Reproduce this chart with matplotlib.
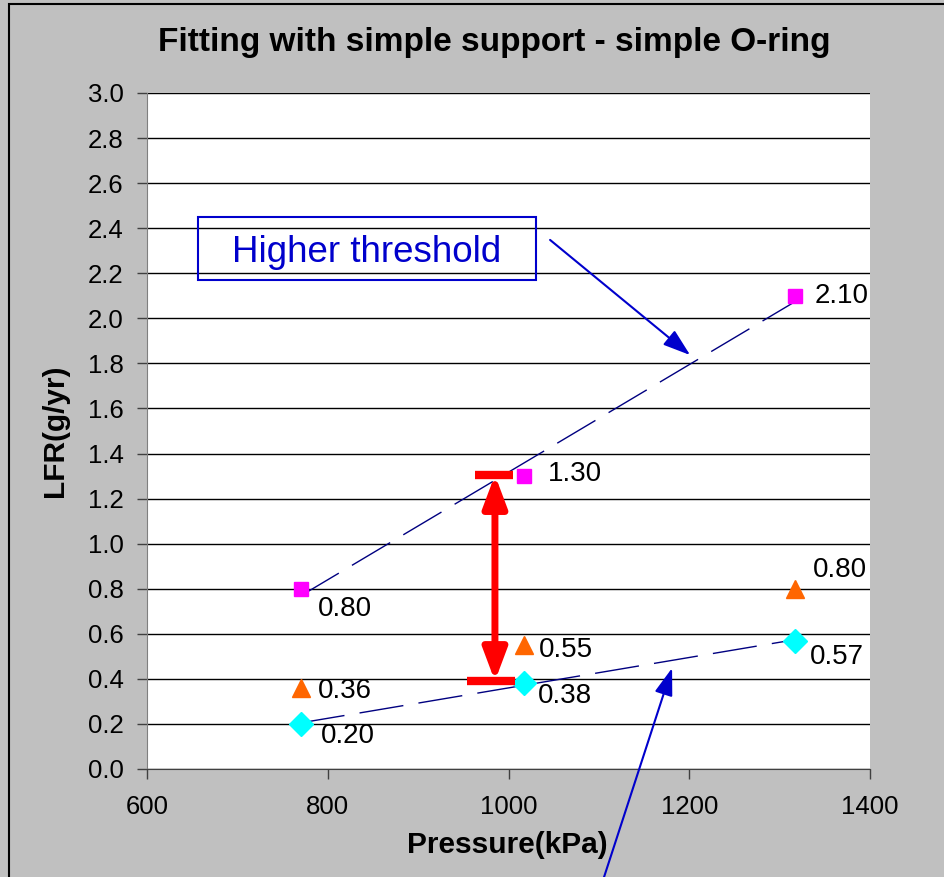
import numpy as np
import matplotlib.pyplot as plt
from matplotlib.patches import Rectangle

plt.rcParams['font.family'] = ['Liberation Sans', 'DejaVu Sans']

# data
pressure = [770, 1017, 1317]
lfr_high = [0.80, 1.30, 2.10]   # pink squares
lfr_mid = [0.36, 0.55, 0.80]    # orange triangles
lfr_low = [0.20, 0.38, 0.57]    # cyan diamonds

high_labels = ['0.80', '1.30', '2.10']
mid_labels = ['0.36', '0.55', '0.80']
low_labels = ['0.20', '0.38', '0.57']

yticks = np.arange(0, 3.01, 0.2)
xticks = [600, 800, 1000, 1200, 1400]

fig = plt.figure(figsize=(9.44, 8.77), dpi=100)
fig.patch.set_facecolor('#C0C0C0')
ax = fig.add_axes([147/944, 1 - 769/877, 723/944, 676/877])
ax.set_facecolor('white')

# outer frame (cut off on right and bottom)
fig.patches.append(Rectangle((9/944, -0.1), 1.2, 1 - 4/877 + 0.1, transform=fig.transFigure,
                             fill=False, edgecolor='black', lw=1.5, zorder=0))

ax.set_xlim(600, 1400)
ax.set_ylim(0, 3.0)
ax.set_yticks(yticks)
ax.set_yticklabels([f'{v:.1f}' for v in yticks])
ax.set_xticks(xticks)
ax.yaxis.grid(True, color='black', lw=1)
ax.set_axisbelow(True)
for s in ['top', 'right']:
    ax.spines[s].set_visible(False)
ax.spines['left'].set_color('#808080')
ax.spines['bottom'].set_color('#404040')
ax.tick_params(axis='y', direction='out', length=7, width=1, pad=10, labelsize=18.5, colors='#404040', labelcolor='black')
ax.tick_params(axis='x', direction='out', length=7, width=1, pad=12, labelsize=18.5, colors='#404040', labelcolor='black')

# trend lines
for ys in [lfr_high, lfr_low]:
    k, b = np.polyfit(pressure, ys, 1)
    xs = np.array([pressure[0], pressure[-1]])
    ax.plot(xs, k * xs + b, color='#000080', lw=1, linestyle=(0, (32, 11)), zorder=3)

ax.plot(pressure, lfr_high, 's', color='#FF00FF', ms=10.5, zorder=4)
ax.plot(pressure, lfr_mid, '^', color='#FF6600', ms=13.5, zorder=4)
ax.plot(pressure, lfr_low, 'D', color='#00FFFF', ms=12, zorder=4)

# data labels
high_off = [(17, -20), (24, 2), (20, 0)]
mid_off = [(17, -3), (15, -5), (18, 19)]
low_off = [(20, -12), (14, -13), (15, -16)]
for xs, ys, labs, offs in [(pressure, lfr_high, high_labels, high_off),
                           (pressure, lfr_mid, mid_labels, mid_off),
                           (pressure, lfr_low, low_labels, low_off)]:
    for x, y, t, o in zip(xs, ys, labs, offs):
        ax.annotate(t, (x, y), xytext=o, textcoords='offset pixels',
                    fontsize=20, ha='left', va='center', zorder=5)

# red double arrow between thresholds
arr_x = 985
ax.annotate('', xy=(arr_x, 1.305), xytext=(arr_x, 0.39),
            arrowprops=dict(arrowstyle='<|-|>,head_length=1.2,head_width=0.45',
                            lw=5, color='red', shrinkA=0, shrinkB=0, mutation_scale=16),
            zorder=6)
ax.plot([963, 1005], [1.305, 1.305], color='red', lw=6, solid_capstyle='butt', zorder=6)
ax.plot([954, 1007], [0.39, 0.39], color='red', lw=6, solid_capstyle='butt', zorder=6)

# "Higher threshold" box
ax.add_patch(Rectangle((656, 2.17), 374, 0.28, fill=False, edgecolor='#0000CC', lw=1.5, zorder=6))
ax.text(843, 2.29, 'Higher threshold', color='#0000CC', fontsize=26.5,
        ha='center', va='center', zorder=7)
ax.annotate('', xy=(1201, 1.837), xytext=(1046, 2.348),
            arrowprops=dict(arrowstyle='-|>,head_length=1.2,head_width=0.4', lw=1.5,
                            color='#0000CC', shrinkA=0, shrinkB=0, mutation_scale=14),
            annotation_clip=False, zorder=7)
ax.annotate('', xy=(1181, 0.448), xytext=(1100, -0.55),
            arrowprops=dict(arrowstyle='-|>,head_length=1.2,head_width=0.4', lw=1.5,
                            color='#0000CC', shrinkA=0, shrinkB=0, mutation_scale=14),
            annotation_clip=False, zorder=7)

ax.set_xlabel('Pressure(kPa)', fontsize=21.5, fontweight='bold')
ax.set_ylabel('LFR(g/yr)', fontsize=21.5, fontweight='bold')
ax.xaxis.set_label_coords(0.499, -0.092)
ax.yaxis.set_label_coords(-0.108, 0.5)

fig.text(494/944, 1 - 43/877, 'Fitting with simple support - simple O-ring',
         fontsize=24, fontweight='bold', ha='center', va='center')

fig.savefig('out.png', dpi=100, facecolor=fig.get_facecolor())
